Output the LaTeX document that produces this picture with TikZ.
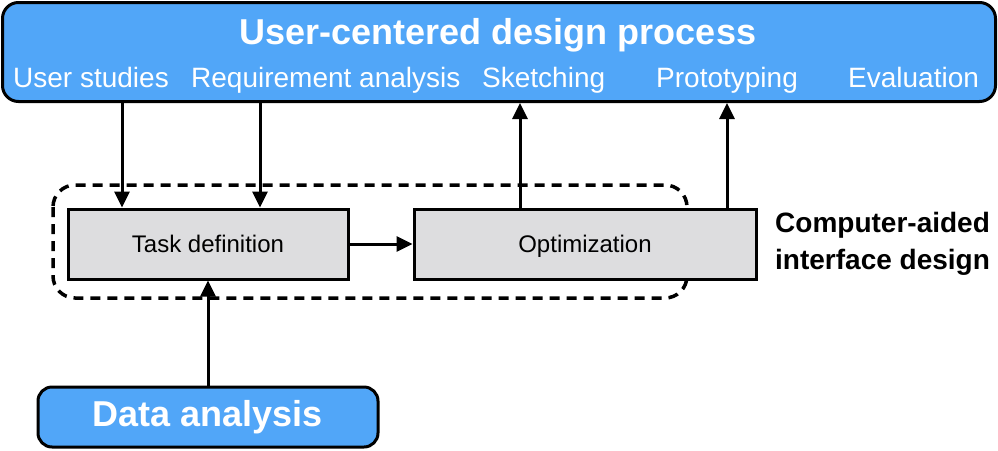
\documentclass[tikz,border=0pt]{standalone}
\usepackage{fontspec}
\setmainfont{Liberation Sans}
\usetikzlibrary{arrows.meta}
\definecolor{ucdblue}{HTML}{51A6F8}
\definecolor{boxgray}{HTML}{DDDDDF}
\tikzset{
  bluebox/.style={draw=black, line width=3pt, fill=ucdblue, rounded corners=16pt, inner sep=0pt},
  graybox/.style={draw=black, line width=3pt, fill=boxgray, inner sep=0pt, font=\fontsize{24}{28}\selectfont},
  subtitle/.style={text=white, anchor=base west, inner sep=0pt, font=\fontsize{28}{32}\selectfont},
  arr/.style={line width=3pt, -{Triangle[length=16pt,width=15pt]}},
  dashbox/.style={draw=black, line width=3.5pt, dash pattern=on 10pt off 7pt, rounded corners=22pt}
}
\begin{document}
\begin{tikzpicture}[x=1pt,y=-1pt]
\useasboundingbox (0,0) rectangle (998,450);
% dashed group
\draw[dashbox] (53,185) rectangle (687,298);
% top box
\node[bluebox, minimum width=993pt, minimum height=99pt] (ucd) at (499,52) {};
\node[text=white, anchor=base, inner sep=0pt, font=\fontsize{36}{40}\selectfont\bfseries] (title) at (498,44) {User-centered design process};
\node[subtitle] (s1) at (13,87) {User studies};
\node[subtitle] (s2) at (191,87) {Requirement analysis};
\node[subtitle] (s3) at (482,87) {Sketching};
\node[subtitle] (s4) at (656,87) {Prototyping};
\node[subtitle] (s5) at (848,87) {Evaluation};
% inner boxes
\node[graybox, minimum width=280pt, minimum height=70pt, text depth=0pt, text height=17pt] (task) at (208,244) {Task definition};
\node[graybox, minimum width=342pt, minimum height=70pt, text depth=0pt, text height=17pt] (opt) at (585,244) {Optimization};
% data analysis
\node[bluebox, rounded corners=14pt, minimum width=340pt, minimum height=60pt] (data) at (208,417) {};
\node[text=white, anchor=base, inner sep=0pt, font=\fontsize{36}{40}\selectfont\bfseries] (datat) at (208,426) {Data analysis};
% label
\node[anchor=west, align=left, inner sep=0pt, font=\fontsize{28}{37}\selectfont\bfseries] (cad) at (775,244) {Computer-aided\\interface design};
% connector positions
\coordinate (a1) at (122,0);
\coordinate (a2) at (260,0);
\coordinate (a3) at (520,0);
\coordinate (a4) at (727,0);
\draw[arr] (ucd.south -| a1) -- (task.north -| a1);
\draw[arr] (ucd.south -| a2) -- (task.north -| a2);
\draw[arr] (opt.north -| a3) -- (ucd.south -| a3);
\draw[arr] (opt.north -| a4) -- (ucd.south -| a4);
\draw[arr] (task.east) -- (opt.west);
\draw[arr] (data.north) -- (task.south);
\end{tikzpicture}
\end{document}
